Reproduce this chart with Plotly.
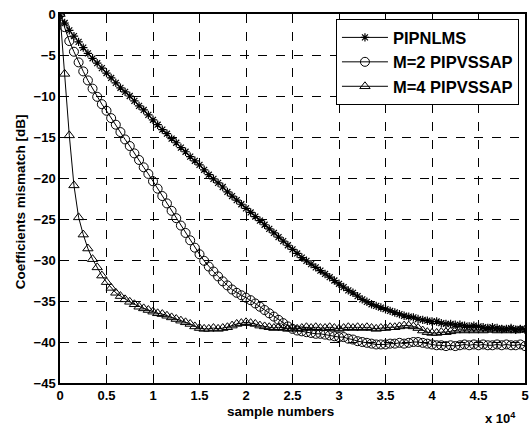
import plotly.graph_objects as go

# sample numbers (every 500 samples)
samples = list(range(0, 50001, 500))

pipnlms = [0, -1.1, -2.0, -2.7, -3.4, -4.1, -4.8, -5.4, -6.0, -6.6,
           -7.2, -7.8, -8.4, -9.0, -9.5, -10.0, -10.6, -11.2, -11.7, -12.3,
           -12.9, -13.5, -14.1, -14.6, -15.2, -15.7, -16.3, -16.8, -17.4, -17.9,
           -18.4, -19.0, -19.6, -20.1, -20.6, -21.1, -21.7, -22.2, -22.7, -23.2,
           -23.7, -24.2, -24.7, -25.2, -25.7, -26.2, -26.7, -27.2, -27.7, -28.2,
           -28.7, -29.2, -29.7, -30.1, -30.5, -30.9, -31.3, -31.7, -32.1, -32.5,
           -32.9, -33.3, -33.7, -34.0, -34.4, -34.8, -35.1, -35.4, -35.6, -35.8,
           -36.0, -36.2, -36.4, -36.6, -36.8, -36.9, -37.0, -37.2, -37.3, -37.4,
           -37.5, -37.5, -37.7, -37.8, -37.8, -37.9, -37.9, -38.0, -38.1, -38.0,
           -38.1, -38.2, -38.3, -38.2, -38.3, -38.4, -38.4, -38.3, -38.5, -38.4,
           -38.5]

m2_pipvssap = [0, -1.6, -3.3, -4.6, -5.9, -7.0, -8.1, -9.1, -10.1, -11.0,
               -11.8, -12.7, -13.5, -14.4, -15.3, -16.1, -17.0, -17.8, -18.7, -19.5,
               -20.4, -21.3, -22.2, -23.1, -24.0, -24.9, -25.8, -26.7, -27.6, -28.5,
               -29.3, -30.1, -30.8, -31.4, -32.0, -32.6, -33.1, -33.6, -34.0, -34.3,
               -34.6, -34.9, -35.3, -35.7, -36.1, -36.5, -36.9, -37.3, -37.7, -38.1,
               -38.4, -38.6, -38.7, -38.8, -38.9, -39.0, -39.0, -39.1, -39.2, -39.3,
               -39.4, -39.4, -39.6, -39.7, -39.9, -40.0, -40.1, -40.2, -40.3, -40.3,
               -40.3, -40.2, -40.2, -40.1, -40.2, -40.1, -40.0, -40.0, -40.1, -40.2,
               -40.3, -40.4, -40.4, -40.5, -40.4, -40.5, -40.4, -40.3, -40.4, -40.3,
               -40.4, -40.3, -40.4, -40.4, -40.3, -40.4, -40.3, -40.4, -40.4, -40.3,
               -40.5]

m4_pipvssap = [0, -7.3, -14.8, -20.9, -24.8, -26.9, -28.6, -29.9, -30.9, -31.9,
               -32.7, -33.4, -34.0, -34.4, -34.8, -35.1, -35.4, -35.7, -35.9, -36.1,
               -36.3, -36.5, -36.6, -36.8, -37.0, -37.2, -37.4, -37.6, -37.8, -38.1,
               -38.3, -38.4, -38.4, -38.3, -38.4, -38.3, -38.2, -38.0, -37.8, -37.7,
               -37.6, -37.7, -37.8, -38.0, -38.1, -38.2, -38.3, -38.2, -38.3, -38.4,
               -38.3, -38.4, -38.3, -38.2, -38.3, -38.2, -38.3, -38.3, -38.2, -38.3,
               -38.4, -38.3, -38.2, -38.3, -38.2, -38.3, -38.2, -38.3, -38.4, -38.3,
               -38.3, -38.2, -38.2, -38.1, -38.0, -38.0, -38.1, -38.3, -38.6, -38.8,
               -38.9, -38.9, -38.8, -38.8, -38.7, -38.6, -38.5, -38.6, -38.5, -38.6,
               -38.5, -38.6, -38.5, -38.5, -38.6, -38.5, -38.6, -38.5, -38.6, -38.5,
               -38.5]

x_tickvals = [0, 5000, 10000, 15000, 20000, 25000, 30000, 35000, 40000, 45000, 50000]
x_ticktext = ["0", "0.5", "1", "1.5", "2", "2.5", "3", "3.5", "4", "4.5", "5"]
y_tickvals = [0, -5, -10, -15, -20, -25, -30, -35, -40, -45]

FONT = "Liberation Sans, Arial, sans-serif"

fig = go.Figure()
fig.add_trace(go.Scatter(x=samples, y=pipnlms, mode="lines+markers", name="<b>PIPNLMS</b>",
                         line=dict(color="black", width=1),
                         marker=dict(symbol="asterisk-open", size=7, color="black",
                                     line=dict(color="black", width=1.2))))
fig.add_trace(go.Scatter(x=samples, y=m2_pipvssap, mode="lines+markers", name="<b>M=2 PIPVSSAP</b>",
                         line=dict(color="black", width=1),
                         marker=dict(symbol="circle-open", size=9, color="black",
                                     line=dict(color="black", width=1))))
fig.add_trace(go.Scatter(x=samples, y=m4_pipvssap, mode="lines+markers", name="<b>M=4 PIPVSSAP</b>",
                         line=dict(color="black", width=1),
                         marker=dict(symbol="triangle-up-open", size=9, color="black",
                                     line=dict(color="black", width=1))))

axis_common = dict(showline=True, linecolor="black", linewidth=1.5, mirror=True,
                   showgrid=True, gridcolor="black", gridwidth=1, griddash="dash",
                   ticks="inside", ticklen=4, tickcolor="black", zeroline=False,
                   automargin=False, ticklabeloverflow="allow",
                   tickfont=dict(family=FONT, size=13, color="black", weight="bold"))

fig.update_xaxes(range=[0, 50000], tickvals=x_tickvals, ticktext=x_ticktext, **axis_common)
fig.update_yaxes(range=[-45, 0], tickvals=y_tickvals, **axis_common)

# axis titles and exponent label
fig.add_annotation(x=0.475, y=-0.076, xref="paper", yref="paper", xanchor="center", yanchor="middle",
                   text="<b>sample numbers</b>", showarrow=False,
                   font=dict(family=FONT, size=13.5, color="black"))
fig.add_annotation(x=-0.086, y=0.49, xref="paper", yref="paper", xanchor="center", yanchor="middle",
                   text="<b>Coefficients mismatch [dB]</b>", showarrow=False, textangle=-90,
                   font=dict(family=FONT, size=13.5, color="black"))
fig.add_annotation(x=0.985, y=-0.095, xref="paper", yref="paper", xanchor="right", yanchor="middle",
                   text="<b>x 10<sup>4</sup></b>", showarrow=False,
                   font=dict(family=FONT, size=13, color="black"))

fig.update_layout(width=532, height=426,
                  margin=dict(l=60, r=7, t=14, b=43),
                  plot_bgcolor="white", paper_bgcolor="white",
                  showlegend=True,
                  legend=dict(x=0.987, y=0.986, xanchor="right", yanchor="top",
                              bgcolor="white", bordercolor="black", borderwidth=1,
                              font=dict(family=FONT, size=16.5, color="black"),
                              tracegroupgap=0, itemwidth=46))

fig.write_html("out.html", config={"displayModeBar": False},
               post_script="document.body.style.margin='0';document.body.style.overflow='hidden';")
